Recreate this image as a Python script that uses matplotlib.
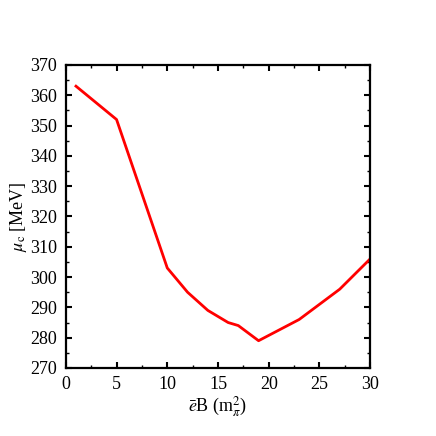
import numpy as np
import matplotlib
matplotlib.use('Agg')
import matplotlib.pyplot as plt
from matplotlib.ticker import MultipleLocator

# critical chemical potential vs magnetic field
eB = [1, 5, 10, 12, 14, 16, 17, 19, 23, 25, 27, 30]
mu_c = [363, 352, 303, 295, 289, 285, 284, 279, 286, 291, 296, 306]

plt.rcParams['font.family'] = ['Liberation Serif', 'DejaVu Serif']
plt.rcParams['mathtext.fontset'] = 'stix'

fig = plt.figure(figsize=(4.36, 4.36), dpi=100)
ax = fig.add_axes([0.151, 0.156, 0.698, 0.695])

ax.plot(eB, mu_c, color='#ff0000', linewidth=2.0)

ax.set_xlim(0, 30)
ax.set_ylim(270, 370)
ax.xaxis.set_major_locator(MultipleLocator(5))
ax.xaxis.set_minor_locator(MultipleLocator(2.5))
ax.yaxis.set_major_locator(MultipleLocator(10))
ax.yaxis.set_minor_locator(MultipleLocator(5))
ax.tick_params(which='both', direction='in', top=True, right=True, labelsize=13)
ax.tick_params(which='major', length=4, width=1.5)
ax.tick_params(which='minor', length=2, width=1.0)
ax.tick_params(axis='y', pad=6.5)
ax.tick_params(axis='x', pad=6)
for s in ax.spines.values():
    s.set_linewidth(1.6)

ax.set_xlabel(r'$\bar{e}$B (m$_{\pi}^{2}$)', fontsize=13, labelpad=1)
ax.set_ylabel(r'$\mu_{\rm c}$ [MeV]', fontsize=13, labelpad=0.5)

fig.savefig('out.png', dpi=100)
